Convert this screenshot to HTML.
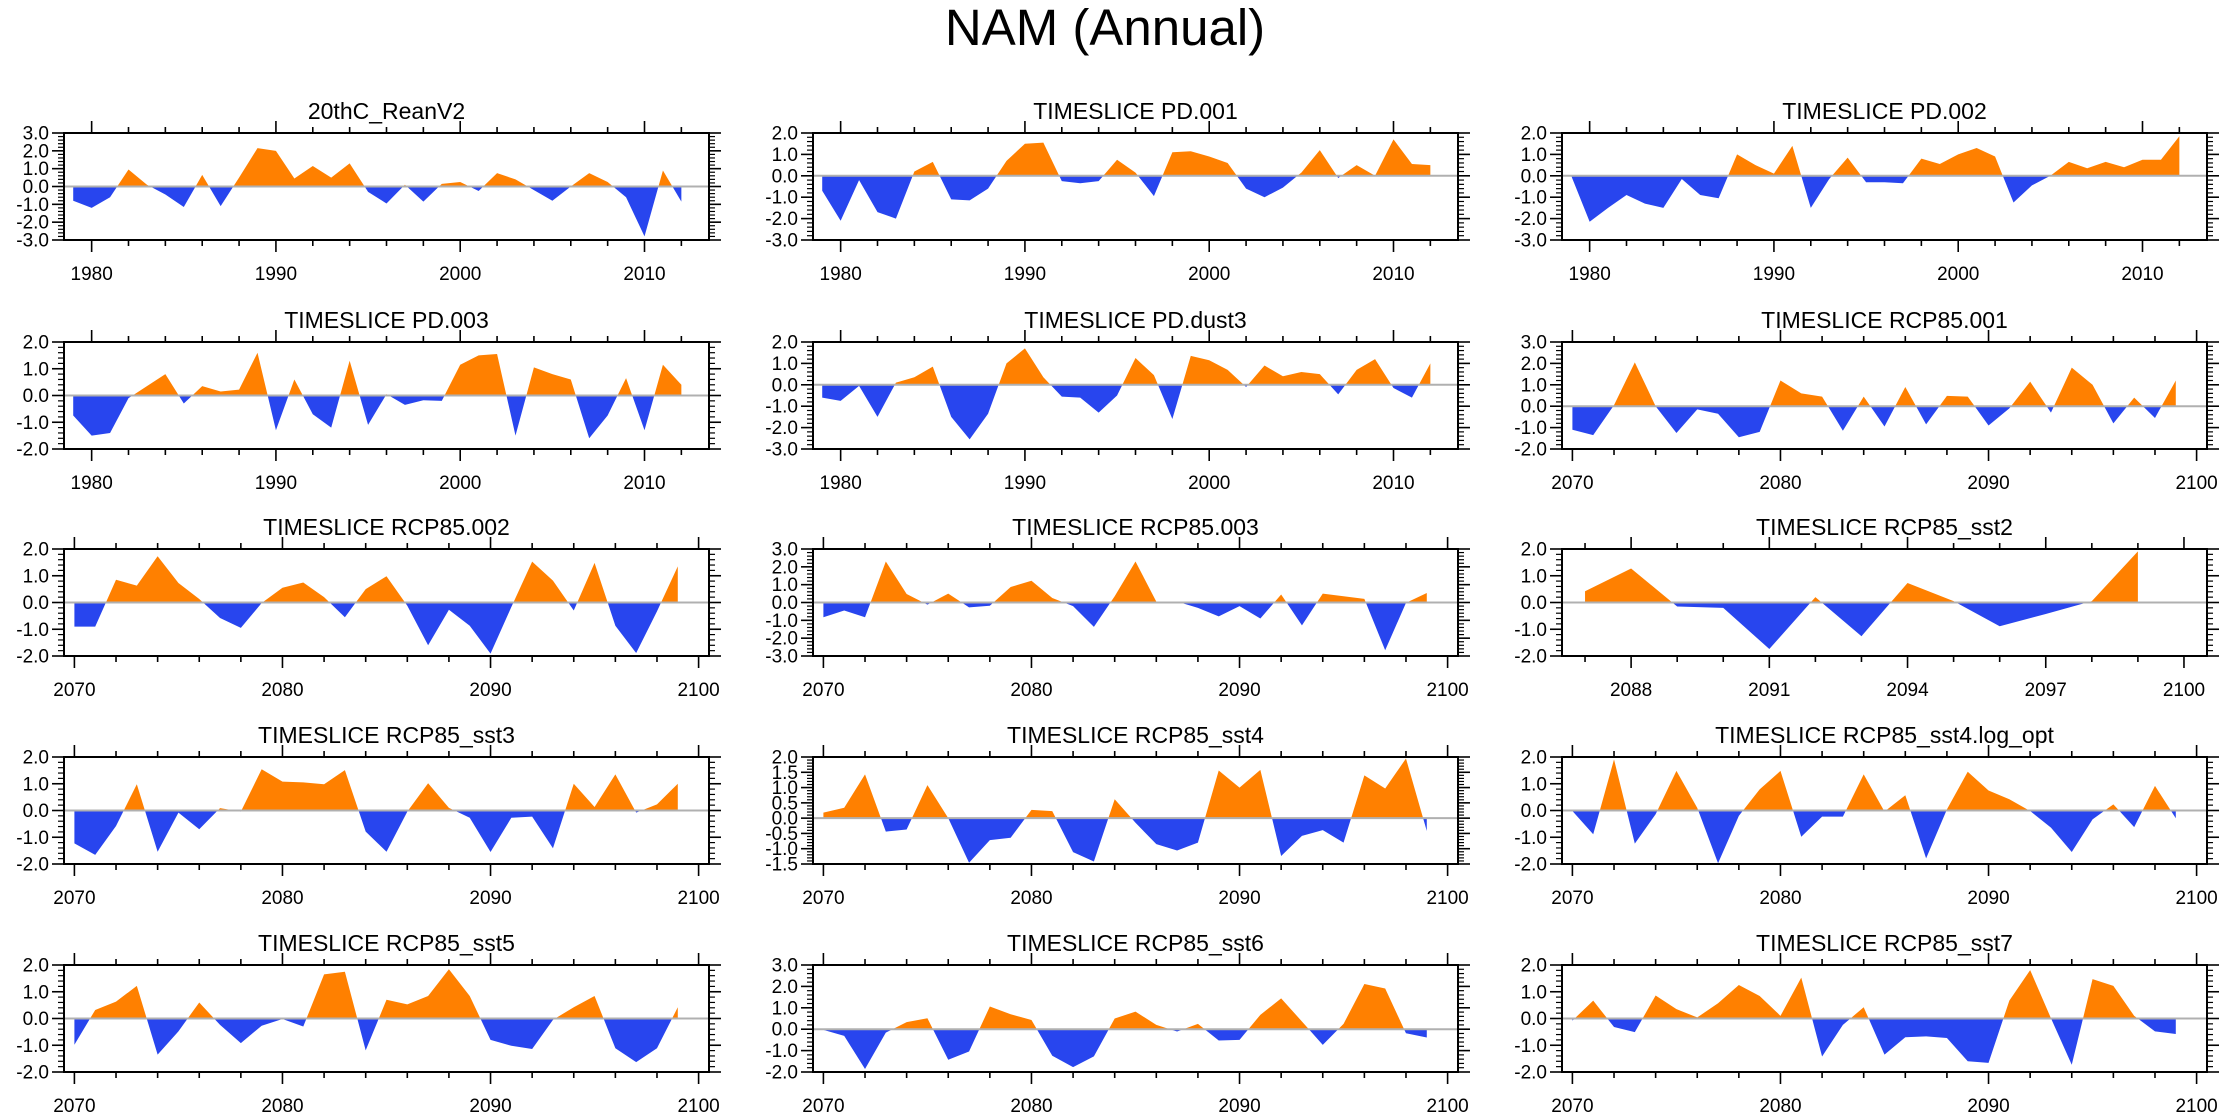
<!DOCTYPE html>
<html><head><meta charset="utf-8"><title>NAM (Annual)</title>
<style>
html,body{margin:0;padding:0;background:#fff;}
svg{display:block;font-family:"Liberation Sans",Arial,sans-serif;}
</style></head>
<body>
<svg id="chart" width="2230" height="1120" viewBox="0 0 2230 1120" xmlns="http://www.w3.org/2000/svg">
<rect x="0" y="0" width="2230" height="1120" fill="#fff"/>
<text x="1105" y="45" font-size="51" text-anchor="middle" fill="#000">NAM (Annual)</text>
<defs id="defs"></defs>
</svg>
<script>
const titles = ["20thC_ReanV2","TIMESLICE PD.001","TIMESLICE PD.002","TIMESLICE PD.003","TIMESLICE PD.dust3","TIMESLICE RCP85.001","TIMESLICE RCP85.002","TIMESLICE RCP85.003","TIMESLICE RCP85_sst2","TIMESLICE RCP85_sst3","TIMESLICE RCP85_sst4","TIMESLICE RCP85_sst4.log_opt","TIMESLICE RCP85_sst5","TIMESLICE RCP85_sst6","TIMESLICE RCP85_sst7"];
const startYears = [1979,1979,1979,1979,1979,2070,2070,2070,2087,2070,2070,2070,2070,2070,2070];
const yMins = [-3,-3,-3,-2,-3,-2,-2,-3,-2,-2,-1.5,-2,-2,-2,-2];
const yMaxs = [3,2,2,2,2,3,2,3,2,2,2,2,2,3,2];
const ySteps = [1,1,1,1,1,1,1,1,1,1,0.5,1,1,1,1];
const xMins = [1978.5,1978.5,1978.5,1978.5,1978.5,2069.5,2069.5,2069.5,2086.5,2069.5,2069.5,2069.5,2069.5,2069.5,2069.5];
const xMaxs = [2013.5,2013.5,2013.5,2013.5,2013.5,2100.5,2100.5,2100.5,2100.5,2100.5,2100.5,2100.5,2100.5,2100.5,2100.5];
const xMajorTicks = [[1980,1990,2000,2010],[2070,2080,2090,2100],[2088,2091,2094,2097,2100]];
const xMinorSteps = [2,2,1];
const xTickSet = [0,0,0,0,0,1,1,1,2,1,1,1,1,1,1];

const v20thC = [-0.8,-1.2,-0.6,0.95,0.1,-0.45,-1.15,0.65,-1.1,0.5,2.15,2.0,0.45,1.15,0.5,1.3,-0.3,-0.95,0.1,-0.85,0.15,0.25,-0.25,0.75,0.4,-0.2,-0.8,0.0,0.75,0.25,-0.6,-2.8,0.9,-0.85];
const vPD001 = [-0.7,-2.1,-0.2,-1.7,-2.0,0.2,0.65,-1.1,-1.15,-0.6,0.7,1.5,1.55,-0.25,-0.35,-0.25,0.75,0.15,-0.95,1.1,1.15,0.9,0.6,-0.6,-1.0,-0.55,0.15,1.2,-0.1,0.5,0.0,1.7,0.55,0.5];
const vPD002 = [0.0,-2.15,-1.5,-0.9,-1.3,-1.5,-0.15,-0.9,-1.05,1.0,0.5,0.1,1.4,-1.5,-0.15,0.85,-0.3,-0.3,-0.35,0.8,0.55,1.0,1.3,0.9,-1.25,-0.45,0.0,0.65,0.35,0.65,0.4,0.75,0.75,1.85];
const vPD003 = [-0.75,-1.5,-1.4,-0.1,0.35,0.8,-0.3,0.35,0.15,0.22,1.6,-1.3,0.6,-0.7,-1.2,1.3,-1.1,0.05,-0.35,-0.18,-0.2,1.15,1.5,1.55,-1.5,1.05,0.8,0.6,-1.6,-0.75,0.65,-1.3,1.15,0.4];
const vDust3 = [-0.6,-0.75,-0.05,-1.5,0.1,0.35,0.85,-1.5,-2.55,-1.35,1.0,1.7,0.35,-0.55,-0.6,-1.3,-0.5,1.25,0.45,-1.6,1.35,1.15,0.7,-0.1,0.9,0.4,0.6,0.5,-0.45,0.7,1.2,-0.15,-0.6,1.0];
const vR001 = [-1.1,-1.35,0.05,2.05,0.0,-1.25,-0.15,-0.35,-1.45,-1.2,1.2,0.6,0.45,-1.15,0.45,-0.95,0.9,-0.85,0.48,0.45,-0.9,-0.1,1.15,-0.3,1.8,1.0,-0.8,0.4,-0.55,1.2];
const vR002 = [-0.9,-0.9,0.85,0.63,1.73,0.73,0.13,-0.58,-0.95,-0.02,0.55,0.75,0.2,-0.55,0.5,0.98,-0.12,-1.6,-0.27,-0.87,-1.91,-0.17,1.53,0.82,-0.3,1.48,-0.87,-1.89,-0.33,1.35];
const vR003 = [-0.83,-0.45,-0.83,2.3,0.48,-0.12,0.5,-0.27,-0.18,0.87,1.22,0.25,-0.2,-1.37,0.35,2.3,0.05,0.05,-0.3,-0.78,-0.2,-0.9,0.45,-1.28,0.5,0.35,0.2,-2.68,-0.02,0.53];
const vSst2 = [0.42,1.27,-0.15,-0.2,-1.74,0.2,-1.26,0.73,0.05,-0.89,-0.43,0.05,1.91];
const vSst3 = [-1.23,-1.66,-0.58,0.98,-1.54,-0.08,-0.7,0.09,-0.04,1.54,1.08,1.05,0.98,1.51,-0.79,-1.54,-0.04,1.02,0.1,-0.27,-1.55,-0.27,-0.23,-1.41,1.0,0.13,1.35,-0.08,0.23,1.0];
const vSst4 = [0.18,0.34,1.43,-0.44,-0.37,1.08,0.0,-1.46,-0.72,-0.64,0.27,0.23,-1.11,-1.42,0.62,-0.15,-0.85,-1.06,-0.8,1.56,1.0,1.58,-1.24,-0.58,-0.39,-0.8,1.4,0.97,1.95,-0.42];
const vSst4Log = [-0.02,-0.89,1.91,-1.24,-0.14,1.48,0.1,-1.97,-0.2,0.79,1.48,-0.98,-0.23,-0.23,1.35,-0.04,0.57,-1.79,0.04,1.45,0.75,0.42,-0.02,-0.64,-1.55,-0.33,0.23,-0.62,0.92,-0.29];
const vSst5 = [-0.98,0.32,0.63,1.22,-1.35,-0.48,0.6,-0.24,-0.92,-0.27,-0.02,-0.3,1.65,1.75,-1.19,0.7,0.53,0.84,1.84,0.84,-0.8,-1.02,-1.14,-0.05,0.42,0.84,-1.11,-1.63,-1.11,0.42];
const vSst6 = [-0.03,-0.31,-1.86,-0.16,0.33,0.51,-1.43,-1.04,1.06,0.7,0.43,-1.24,-1.77,-1.27,0.5,0.82,0.2,-0.11,0.25,-0.53,-0.5,0.67,1.44,0.36,-0.73,0.25,2.11,1.9,-0.19,-0.39];
const vSst7 = [-0.08,0.67,-0.32,-0.51,0.86,0.35,0.04,0.57,1.25,0.84,0.1,1.53,-1.42,-0.24,0.42,-1.35,-0.7,-0.67,-0.73,-1.6,-1.66,0.67,1.81,0.01,-1.73,1.47,1.22,0.1,-0.48,-0.58];
const series = [v20thC,vPD001,vPD002,vPD003,vDust3,vR001,vR002,vR003,vSst2,vSst3,vSst4,vSst4Log,vSst5,vSst6,vSst7];

const NS = "http://www.w3.org/2000/svg";
const svg = document.getElementById('chart');
const defs = document.getElementById('defs');
const colLeft = [64, 813, 1562];
const rowTop = [133, 342, 549, 757, 965];
const boxW = 645, boxH = 107;
const ORANGE = "#ff8000", BLUE = "#2845ee";

function mk(tag, attrs, parent) {
  const e = document.createElementNS(NS, tag);
  for (const k in attrs) e.setAttribute(k, attrs[k]);
  parent.appendChild(e);
  return e;
}
function fmt(v) { return (Math.abs(v) < 1e-9 ? 0 : v).toFixed(1); }

series.forEach((vals, i) => {
  const L = colLeft[i % 3], T = rowTop[Math.floor(i / 3)], W = boxW, H = boxH;
  const xMin = xMins[i], xMax = xMaxs[i], yMin = yMins[i], yMax = yMaxs[i];
  const xs = v => L + (v - xMin) / (xMax - xMin) * W;
  const ys = v => T + (yMax - v) / (yMax - yMin) * H;
  const slug = titles[i].replace('TIMESLICE ', '').toLowerCase().replace(/[^a-z0-9]+/g, '-');
  const g = mk('g', {}, svg);
  
  

  const z = ys(0);
  const cpA = mk('clipPath', {id: 'ca' + i}, defs);
  mk('rect', {x: L, y: T, width: W, height: z - T}, cpA);
  const cpB = mk('clipPath', {id: 'cb' + i}, defs);
  mk('rect', {x: L, y: z, width: W, height: T + H - z}, cpB);

  const pts = vals.map((v, k) => xs(startYears[i] + k).toFixed(2) + ',' + ys(v).toFixed(2));
  const x0 = xs(startYears[i]).toFixed(2), x1 = xs(startYears[i] + vals.length - 1).toFixed(2);
  const poly = x0 + ',' + z + ' ' + pts.join(' ') + ' ' + x1 + ',' + z;
  const pa = mk('polygon', {points: poly, fill: ORANGE, 'clip-path': 'url(#ca' + i + ')'}, g);
  
  
  const pb = mk('polygon', {points: poly, fill: BLUE, 'clip-path': 'url(#cb' + i + ')'}, g);
  
  

  const zl = mk('line', {x1: L, x2: L + W, y1: z, y2: z, stroke: '#b0b0b0', 'stroke-width': 2}, g);
  
  

  const fr = mk('rect', {x: L, y: T, width: W, height: H, fill: 'none', stroke: '#000', 'stroke-width': 2}, g);
  
  

  const ts = xTickSet[i];
  const majors = xMajorTicks[ts];
  const mstep = xMinorSteps[ts];
  const xt = mk('g', {stroke: '#000'}, g);
  
  
  for (let yr = Math.ceil(xMin); yr <= xMax; yr++) {
    const isMaj = majors.indexOf(yr) >= 0;
    if (!isMaj && (yr - majors[0]) % mstep !== 0) continue;
    const len = isMaj ? 12 : 6, x = xs(yr);
    mk('line', {x1: x, x2: x, y1: T, y2: T - len, 'stroke-width': 1.6}, xt);
    mk('line', {x1: x, x2: x, y1: T + H, y2: T + H + len, 'stroke-width': 1.6}, xt);
  }
  majors.forEach(yr => {
    const t = mk('text', {x: xs(yr), y: T + H + 40, 'font-size': 19, 'text-anchor': 'middle', fill: '#000'}, g);
    t.textContent = String(yr);
    
    
  });

  const step = ySteps[i], minor = step / 5;
  const yt = mk('g', {stroke: '#000'}, g);
  
  
  const nMin = Math.round((yMax - yMin) / minor);
  for (let k = 0; k <= nMin; k++) {
    const v = yMin + k * minor;
    const isMaj = k % 5 === 0;
    const len = isMaj ? 12 : 6, y = ys(v);
    mk('line', {x1: L, x2: L - len, y1: y, y2: y, 'stroke-width': isMaj ? 1.6 : 1.2}, yt);
    mk('line', {x1: L + W, x2: L + W + len, y1: y, y2: y, 'stroke-width': isMaj ? 1.6 : 1.2}, yt);
    if (isMaj) {
      const t = mk('text', {x: L - 15, y: y + 6.5, 'font-size': 19, 'text-anchor': 'end', fill: '#000', stroke: 'none'}, g);
      t.textContent = fmt(v);
      
      
    }
  }

  const tt = mk('text', {x: L + W / 2, y: T - 14, 'font-size': 23, 'text-anchor': 'middle', fill: '#000'}, g);
  tt.textContent = titles[i];
  
  
});
</script>
</body></html>
